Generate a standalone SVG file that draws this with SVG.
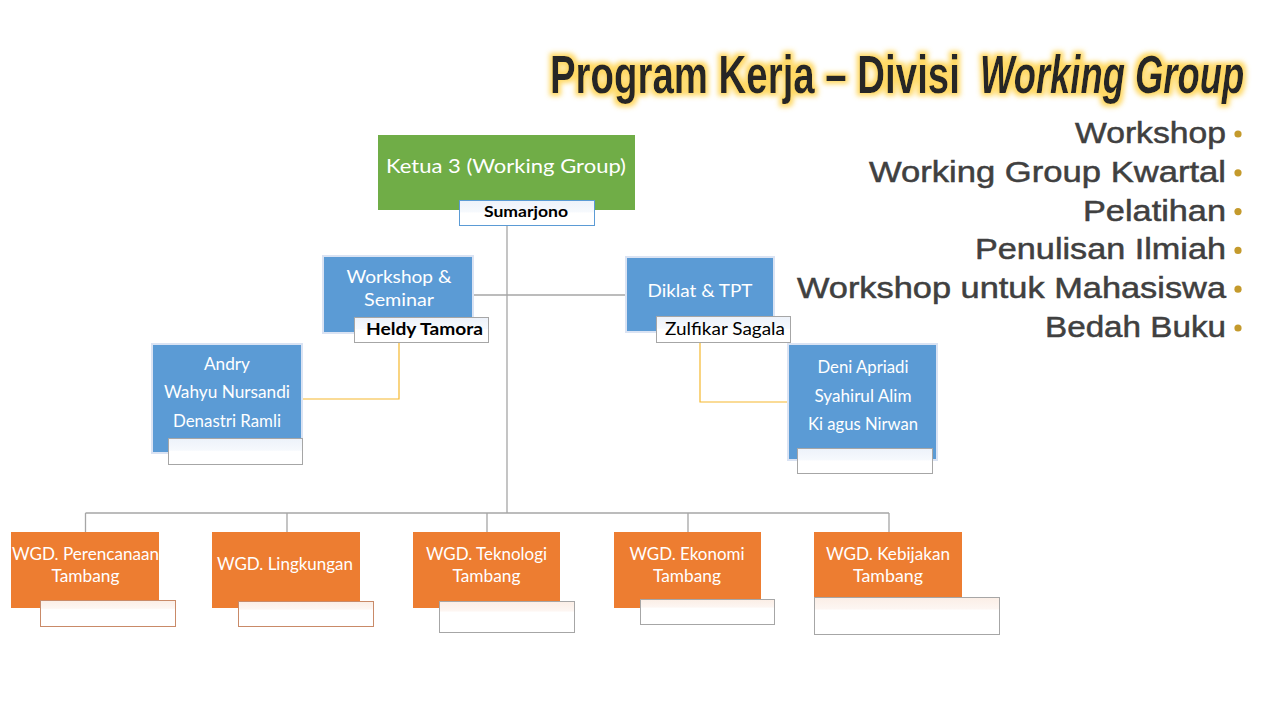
<svg xmlns="http://www.w3.org/2000/svg" width="1280" height="720" viewBox="0 0 1280 720">
<defs>
<style>
.g{fill:#70ad47}
.b{fill:#5b9bd5;stroke:#dae3f3;stroke-width:2}
.o{fill:#ed7d31}
.wt{font-family:Lato,"Open Sans","Liberation Sans",sans-serif;fill:#fff;text-anchor:middle}
.bt{font-family:Lato,"Open Sans","Liberation Sans",sans-serif;fill:#000;text-anchor:middle}
.lb{fill:url(#lbB);stroke:#a6a6a6;stroke-width:1}
.lo{fill:url(#lbO);stroke:#c98a68;stroke-width:1}
.lg{fill:url(#lbO);stroke:#a6a6a6;stroke-width:1}
.con{stroke:#a6a6a6;stroke-width:1.3;fill:none}
.oc{stroke:#f5b82e;stroke-width:1.2;fill:none}
.li{font-family:"Liberation Sans",Arial,sans-serif;font-size:30px;fill:#404040;stroke:#404040;stroke-width:0.5;text-anchor:end}
.dot{fill:#c49a2c}
.tt{font-family:"Liberation Sans",Arial,sans-serif;font-weight:bold;font-size:53px;fill:#262626}
</style>
<linearGradient id="lbB" x1="0" y1="0" x2="0" y2="1"><stop offset="0" stop-color="#edf2fa"/><stop offset="0.45" stop-color="#f6f9fd"/><stop offset="0.5" stop-color="#fff"/><stop offset="1" stop-color="#fff"/></linearGradient>
<linearGradient id="lbO" x1="0" y1="0" x2="0" y2="1"><stop offset="0" stop-color="#fbeee6"/><stop offset="0.3" stop-color="#fdf6f2"/><stop offset="0.35" stop-color="#fff"/><stop offset="1" stop-color="#fff"/></linearGradient>
<filter id="glow" x="-5%" y="-40%" width="110%" height="180%">
<feMorphology in="SourceAlpha" operator="dilate" radius="2.5" result="d"/>
<feGaussianBlur in="d" stdDeviation="2.5" result="bl"/>
<feFlood flood-color="#ffd24a" flood-opacity="0.85"/>
<feComposite in2="bl" operator="in" result="gl"/>
<feMerge><feMergeNode in="gl"/><feMergeNode in="SourceGraphic"/></feMerge>
</filter>
</defs>
<rect width="1280" height="720" fill="#fff"/>

<g id="title" filter="url(#glow)">
<text class="tt" transform="translate(550,93) scale(0.725,1)">Program Kerja – Divisi</text>
<text class="tt" transform="translate(980,93) scale(0.687,1)" font-style="italic">Working Group</text>
</g>

<g id="program-list">
<text class="li" x="1226" y="143" textLength="151" lengthAdjust="spacingAndGlyphs">Workshop</text>
<text class="li" x="1226" y="181.8" textLength="357" lengthAdjust="spacingAndGlyphs">Working Group Kwartal</text>
<text class="li" x="1226" y="220.6" textLength="143" lengthAdjust="spacingAndGlyphs">Pelatihan</text>
<text class="li" x="1226" y="259.4" textLength="251" lengthAdjust="spacingAndGlyphs">Penulisan Ilmiah</text>
<text class="li" x="1226" y="298.2" textLength="429" lengthAdjust="spacingAndGlyphs">Workshop untuk Mahasiswa</text>
<text class="li" x="1226" y="337" textLength="181" lengthAdjust="spacingAndGlyphs">Bedah Buku</text>
<circle class="dot" cx="1238" cy="134" r="3.6"/>
<circle class="dot" cx="1238" cy="172.8" r="3.6"/>
<circle class="dot" cx="1238" cy="211.6" r="3.6"/>
<circle class="dot" cx="1238" cy="250.4" r="3.6"/>
<circle class="dot" cx="1238" cy="289.2" r="3.6"/>
<circle class="dot" cx="1238" cy="328" r="3.6"/>
</g>

<g id="connectors">
<path class="con" d="M507 226V513M473 295H626M85.5 513H889M85.5 513V532M287 513V532M487 513V532M688 513V532M889 513V532"/>
<path class="oc" d="M399 342V399H302"/>
<path class="oc" d="M700 342V402H788"/>
</g>

<g id="ketua">
<rect class="g" x="378" y="135" width="257" height="75"/>
<text class="wt" x="506" y="173" font-size="20" textLength="240" lengthAdjust="spacingAndGlyphs">Ketua 3 (Working Group)</text>
<rect x="459.5" y="200.5" width="135" height="25" fill="url(#lbB)" stroke="#5b9bd5" stroke-width="1"/>
<text class="bt" x="526" y="217" font-size="15" font-weight="bold" textLength="84" lengthAdjust="spacingAndGlyphs">Sumarjono</text>
</g>

<g id="workshop-seminar">
<rect class="b" x="323" y="256" width="150" height="77"/>
<text class="wt" x="399" y="283" font-size="18" textLength="105" lengthAdjust="spacingAndGlyphs">Workshop &amp;</text>
<text class="wt" x="399" y="306" font-size="18" textLength="70" lengthAdjust="spacingAndGlyphs">Seminar</text>
<rect class="lb" x="354.5" y="317.5" width="134" height="25"/>
<text class="bt" x="424.5" y="335" font-size="17" font-weight="bold" textLength="117" lengthAdjust="spacingAndGlyphs">Heldy Tamora</text>
</g>

<g id="diklat-tpt">
<rect class="b" x="626" y="257" width="148" height="75"/>
<text class="wt" x="700" y="297" font-size="18" textLength="105" lengthAdjust="spacingAndGlyphs">Diklat &amp; TPT</text>
<rect class="lb" x="656.5" y="316.5" width="134" height="26"/>
<text class="bt" x="725" y="335" font-size="17" textLength="120" lengthAdjust="spacingAndGlyphs">Zulfikar Sagala</text>
</g>

<g id="anggota-workshop">
<rect class="b" x="152" y="344" width="150" height="109"/>
<text class="wt" x="227" y="370" font-size="17" textLength="46" lengthAdjust="spacingAndGlyphs">Andry</text>
<text class="wt" x="227" y="398" font-size="17" textLength="126" lengthAdjust="spacingAndGlyphs">Wahyu Nursandi</text>
<text class="wt" x="227" y="427" font-size="17" textLength="108" lengthAdjust="spacingAndGlyphs">Denastri Ramli</text>
<rect class="lb" x="168.5" y="438.5" width="134" height="26"/>
</g>

<g id="anggota-diklat">
<rect class="b" x="788" y="344" width="149" height="116"/>
<text class="wt" x="863" y="373" font-size="17" textLength="91" lengthAdjust="spacingAndGlyphs">Deni Apriadi</text>
<text class="wt" x="863" y="402" font-size="17" textLength="97" lengthAdjust="spacingAndGlyphs">Syahirul Alim</text>
<text class="wt" x="863" y="430" font-size="17" textLength="110" lengthAdjust="spacingAndGlyphs">Ki agus Nirwan</text>
<rect class="lb" x="797.5" y="448.5" width="135" height="25"/>
</g>

<g id="wgd-perencanaan">
<rect class="o" x="11" y="532" width="148" height="76"/>
<text class="wt" x="85.5" y="560" font-size="17" textLength="147" lengthAdjust="spacingAndGlyphs">WGD. Perencanaan</text>
<text class="wt" x="85.5" y="582" font-size="17" textLength="68" lengthAdjust="spacingAndGlyphs">Tambang</text>
<rect class="lo" x="40.5" y="600.5" width="135" height="26"/>
</g>

<g id="wgd-lingkungan">
<rect class="o" x="212" y="532" width="148" height="76"/>
<text class="wt" x="285" y="570" font-size="17" textLength="136" lengthAdjust="spacingAndGlyphs">WGD. Lingkungan</text>
<rect class="lo" x="238.5" y="601.5" width="135" height="25"/>
</g>

<g id="wgd-teknologi">
<rect class="o" x="413" y="532" width="147" height="76"/>
<text class="wt" x="486.5" y="560" font-size="17" textLength="121" lengthAdjust="spacingAndGlyphs">WGD. Teknologi</text>
<text class="wt" x="486.5" y="582" font-size="17" textLength="68" lengthAdjust="spacingAndGlyphs">Tambang</text>
<rect class="lg" x="439.5" y="601.5" width="135" height="31" stroke="#b0908a"/>
</g>

<g id="wgd-ekonomi">
<rect class="o" x="614" y="532" width="147" height="76"/>
<text class="wt" x="687" y="560" font-size="17" textLength="115" lengthAdjust="spacingAndGlyphs">WGD. Ekonomi</text>
<text class="wt" x="687" y="582" font-size="17" textLength="68" lengthAdjust="spacingAndGlyphs">Tambang</text>
<rect class="lg" x="640.5" y="599.5" width="134" height="25"/>
</g>

<g id="wgd-kebijakan">
<rect class="o" x="814" y="532" width="148" height="76"/>
<text class="wt" x="888" y="560" font-size="17" textLength="124" lengthAdjust="spacingAndGlyphs">WGD. Kebijakan</text>
<text class="wt" x="888" y="582" font-size="17" textLength="70" lengthAdjust="spacingAndGlyphs">Tambang</text>
<rect class="lg" x="814.5" y="597.5" width="185" height="37"/>
</g>
</svg>
